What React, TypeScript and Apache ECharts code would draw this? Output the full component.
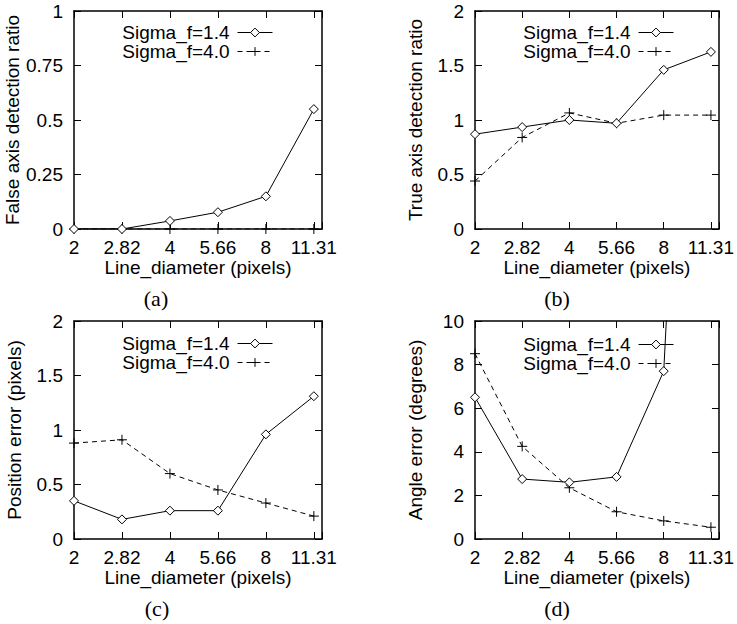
import React, { useEffect, useRef } from "react";
import * as echarts from "echarts";

// ---- data ----
const xLabels = ["2", "2.82", "4", "5.66", "8", "11.31"];
const xIndex = [0, 1, 2, 3, 4, 5];
const seriesNames = ["Sigma_f=1.4", "Sigma_f=4.0"];

const falseRatio14 = [0, 0, 0.037, 0.077, 0.15, 0.55];
const falseRatio40 = [0, 0, 0, 0, 0, 0];
const trueRatio14 = [0.87, 0.935, 1.0, 0.97, 1.46, 1.625];
const trueRatio40 = [0.44, 0.84, 1.065, 0.97, 1.045, 1.045];
const posErr14 = [0.35, 0.18, 0.26, 0.26, 0.96, 1.31];
const posErr40 = [0.88, 0.91, 0.6, 0.45, 0.33, 0.21];
const angErr14 = [6.5, 2.75, 2.6, 2.85, 7.7, 50];
const angErr40 = [8.5, 4.25, 2.35, 1.25, 0.83, 0.54];

const yTitles = [
  "False axis detection ratio",
  "True axis detection ratio",
  "Position error (pixels)",
  "Angle error (degrees)",
];
const yMax = [1, 2, 2, 10];
const yInterval = [0.25, 0.5, 0.5, 2];
const captions = ["(a)", "(b)", "(c)", "(d)"];
const panelData = [
  [falseRatio14, falseRatio40],
  [trueRatio14, trueRatio40],
  [posErr14, posErr40],
  [angErr14, angErr40],
];

// ---- layout ----
const grids = [
  { left: 74, top: 11, width: 248, height: 218 },
  { left: 475, top: 11, width: 247, height: 218 },
  { left: 74, top: 321, width: 248, height: 218 },
  { left: 475, top: 321, width: 247, height: 218 },
];
const legendPos = [
  { right: 464, top: 23 },
  { right: 63, top: 23 },
  { right: 464, top: 334 },
  { right: 63, top: 335 },
];
const captionPos = [
  { x: 156, y: 298 },
  { x: 557, y: 298 },
  { x: 157, y: 608 },
  { x: 557, y: 608 },
];

const FONT = "'Liberation Sans', Arial, Helvetica, sans-serif";
const FS = 19;
const X_MAX = 5.17;
const PLUS = "path://M0,5L10,5M5,0L5,10";

const mkLine = () => ({ show: true, onZero: false, lineStyle: { color: "#000", width: 1.5 } });
const mkTick = () => ({ show: true, inside: true, length: 7, lineStyle: { color: "#000", width: 1 } });

export default function App() {
  const ref = useRef<HTMLDivElement>(null);
  useEffect(() => {
    if (!ref.current) return;
    const chart = echarts.init(ref.current, null, { renderer: "svg" });

    const xAxis: any[] = [];
    const yAxis: any[] = [];
    const series: any[] = [];
    const legend: any[] = [];
    const graphic: any[] = [];

    grids.forEach((g, i) => {
      xAxis.push({
        type: "value",
        gridIndex: i,
        position: "bottom",
        min: 0,
        max: X_MAX,
        interval: 1,
        axisLine: mkLine(),
        axisTick: mkTick(),
        splitLine: { show: false },
        axisLabel: {
          formatter: (v: number) => (Number.isInteger(v) && xLabels[v] !== undefined ? xLabels[v] : ""),
          color: "#000",
          fontSize: FS,
          fontFamily: FONT,
          margin: 9,
        },
        name: "Line_diameter (pixels)",
        nameLocation: "middle",
        nameGap: 29,
        nameTextStyle: { color: "#000", fontSize: FS, fontFamily: FONT },
      });
      xAxis.push({
        type: "value",
        gridIndex: i,
        position: "top",
        min: 0,
        max: X_MAX,
        interval: 1,
        axisLine: mkLine(),
        axisTick: mkTick(),
        splitLine: { show: false },
        axisLabel: { show: false },
      });
      yAxis.push({
        type: "value",
        gridIndex: i,
        position: "left",
        min: 0,
        max: yMax[i],
        interval: yInterval[i],
        axisLine: mkLine(),
        axisTick: mkTick(),
        splitLine: { show: false },
        axisLabel: { color: "#000", fontSize: FS, fontFamily: FONT, margin: 11 },
        name: yTitles[i],
        nameLocation: "middle",
        nameGap: 50,
        nameTextStyle: { color: "#000", fontSize: FS, fontFamily: FONT },
      });
      yAxis.push({
        type: "value",
        gridIndex: i,
        position: "right",
        min: 0,
        max: yMax[i],
        interval: yInterval[i],
        axisLine: mkLine(),
        axisTick: mkTick(),
        splitLine: { show: false },
        axisLabel: { show: false },
      });

      const [d14, d40] = panelData[i];
      series.push({
        type: "line",
        name: seriesNames[0],
        xAxisIndex: i * 2,
        yAxisIndex: i * 2,
        data: xIndex.map((x, k) => [x, d14[k]]),
        symbol: "diamond",
        symbolSize: 9,
        showAllSymbol: true,
        clip: true,
        z: 3,
        lineStyle: { color: "#000", width: 1 },
        itemStyle: { color: "#fff", borderColor: "#000", borderWidth: 1 },
      });
      series.push({
        type: "line",
        name: seriesNames[1],
        xAxisIndex: i * 2,
        yAxisIndex: i * 2,
        data: xIndex.map((x, k) => [x, d40[k]]),
        symbol: PLUS,
        symbolSize: 10,
        showAllSymbol: true,
        clip: true,
        z: 2,
        lineStyle: { color: "#000", width: 1, type: [5, 4] },
        itemStyle: { color: "#000", borderColor: "#000", borderWidth: 1 },
      });

      legend.push({
        orient: "vertical",
        right: legendPos[i].right,
        top: legendPos[i].top,
        align: "right",
        itemWidth: 35,
        itemHeight: 11,
        itemGap: 0,
        padding: 0,
        selectedMode: false,
        data: seriesNames,
        lineStyle: { width: 1 },
        itemStyle: { borderWidth: 1 },
        textStyle: { color: "#000", fontSize: FS, fontFamily: FONT, lineHeight: 19, padding: [0, 3, 0, 0] },
      });

      graphic.push({
        type: "text",
        x: captionPos[i].x,
        y: captionPos[i].y,
        style: {
          text: captions[i],
          font: "22px 'Liberation Serif', 'DejaVu Serif', serif",
          fill: "#000",
          align: "center",
          verticalAlign: "middle",
        },
      });
    });

    chart.setOption({
      animation: false,
      backgroundColor: "#fff",
      grid: grids.map((g) => ({ ...g, containLabel: false })),
      xAxis,
      yAxis,
      series,
      legend,
      graphic,
    });
    return () => chart.dispose();
  }, []);
  return (
    <div
      ref={ref}
      style={{ position: "absolute", left: 0, top: 0, width: 737, height: 624, background: "#fff" }}
    />
  );
}
